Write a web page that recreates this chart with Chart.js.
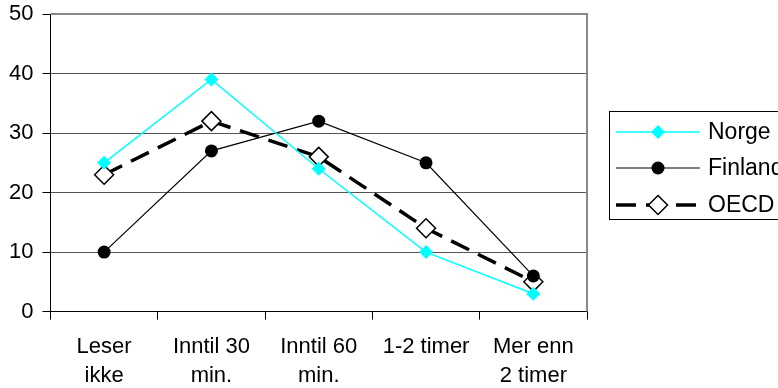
<!DOCTYPE html>
<html>
<head>
<meta charset="utf-8">
<script src="https://cdn.jsdelivr.net/npm/chart.js@4/dist/chart.umd.min.js"></script>
<style>
  html, body { margin: 0; padding: 0; background: #fff; }
  #wrap { width: 778px; height: 388px; }
</style>
</head>
<body>
<div id="wrap"><canvas id="c"></canvas></div>
<script>
const categories = [['Leser', 'ikke'], ['Inntil 30', 'min.'], ['Inntil 60', 'min.'], '1-2 timer', ['Mer enn', '2 timer']];
const norge   = [25, 39, 24, 10, 3];
const finland = [10, 27, 32, 25, 6];
const oecd    = [23, 32, 26, 14, 5];
const yTicks  = [0, 10, 20, 30, 40, 50];

const FONT = 'Liberation Sans, Arial, sans-serif';

// box legend on the right, line sample + marker like the original
const boxLegend = {
    id: 'boxLegend',
    afterDraw(chart) {
        const ctx = chart.ctx;
        const left = 609, top = 111, bottom = 219;
        const rows = [132, 168, 205];
        ctx.save();
        ctx.strokeStyle = '#000';
        ctx.lineWidth = 1;
        ctx.strokeRect(left + 0.5, top + 0.5, 400, bottom - top);
        chart.data.datasets.forEach((ds, i) => {
            const y = rows[i];
            ctx.save();
            ctx.strokeStyle = ds.borderColor;
            ctx.lineWidth = ds.borderWidth;
            ctx.setLineDash(ds.borderDash || []);
            ctx.beginPath();
            ctx.moveTo(616, y);
            ctx.lineTo(700, y);
            ctx.stroke();
            ctx.restore();
            ctx.save();
            ctx.fillStyle = ds.pointBackgroundColor;
            ctx.strokeStyle = ds.pointBorderColor;
            ctx.lineWidth = ds.pointBorderWidth;
            ctx.beginPath();
            drawMarker(ctx, ds.pointStyle, ds.pointRadius, 658, y);
            ctx.fill();
            if (ds.pointBorderWidth) ctx.stroke();
            ctx.restore();
            ctx.fillStyle = '#000';
            ctx.font = '23px ' + FONT;
            ctx.textBaseline = 'middle';
            ctx.textAlign = 'left';
            ctx.fillText(ds.label, 708, y + 1);
        });
        ctx.restore();
    }
};

function drawMarker(ctx, style, r, x, y) {
    if (style === 'circle') {
        ctx.arc(x, y, r, 0, Math.PI * 2);
    } else {
        ctx.moveTo(x, y - r);
        ctx.lineTo(x + r, y);
        ctx.lineTo(x, y + r);
        ctx.lineTo(x - r, y);
        ctx.closePath();
    }
}

new Chart(document.getElementById('c'), {
    type: 'line',
    data: {
        labels: categories,
        datasets: [
            {
                label: 'Norge',
                data: norge,
                borderColor: '#00FFFF',
                borderWidth: 1.5,
                pointStyle: 'rectRot',
                pointRadius: 7,
                pointBackgroundColor: '#00FFFF',
                pointBorderColor: '#00FFFF',
                pointBorderWidth: 0,
                tension: 0
            },
            {
                label: 'Finland',
                data: finland,
                borderColor: '#000',
                borderWidth: 1.2,
                pointStyle: 'circle',
                pointRadius: 6.5,
                pointBackgroundColor: '#000',
                pointBorderColor: '#000',
                pointBorderWidth: 0,
                tension: 0
            },
            {
                label: 'OECD',
                data: oecd,
                borderColor: '#000',
                borderWidth: 3.5,
                borderDash: [20, 10],
                pointStyle: 'rectRot',
                pointRadius: 9.5,
                pointBackgroundColor: '#fff',
                pointBorderColor: '#000',
                pointBorderWidth: 1.5,
                tension: 0
            }
        ]
    },
    options: {
        responsive: true,
        maintainAspectRatio: false,
        animation: false,
        layout: { padding: { left: 0, right: 191, top: 14, bottom: -15 } },
        plugins: {
            legend: { display: false },
            tooltip: { enabled: false }
        },
        scales: {
            x: {
                offset: true,
                grid: {
                    offset: true,
                    drawOnChartArea: false,
                    drawTicks: true,
                    tickLength: 8,
                    tickColor: '#000',
                    color: '#000'
                },
                border: { display: true, color: '#000', width: 1 },
                ticks: {
                    color: '#000',
                    padding: 12,
                    maxRotation: 0,
                    autoSkip: false,
                    font: { family: FONT, size: 22, lineHeight: 1.35 }
                }
            },
            y: {
                min: 0,
                max: 50,
                afterBuildTicks: (axis) => { axis.ticks = yTicks.map(v => ({ value: v })); },
                afterFit: (axis) => { axis.paddingTop = 0; },
                grid: {
                    color: '#555',
                    lineWidth: 1,
                    tickLength: 8,
                    tickColor: '#000'
                },
                border: { display: true, color: '#000', width: 1 },
                ticks: {
                    color: '#000',
                    padding: 9,
                    font: { family: FONT, size: 22 }
                }
            }
        }
    },
    plugins: [boxLegend, {
        id: 'frame',
        afterDraw(chart) {
            const { ctx, chartArea: a } = chart;
            ctx.save();
            ctx.strokeStyle = '#888';
            ctx.lineWidth = 2;
            ctx.beginPath();
            ctx.moveTo(a.left, a.top);
            ctx.lineTo(a.right, a.top);
            ctx.lineTo(a.right, a.bottom);
            ctx.stroke();
            ctx.restore();
        }
    }]
});
</script>
</body>
</html>
